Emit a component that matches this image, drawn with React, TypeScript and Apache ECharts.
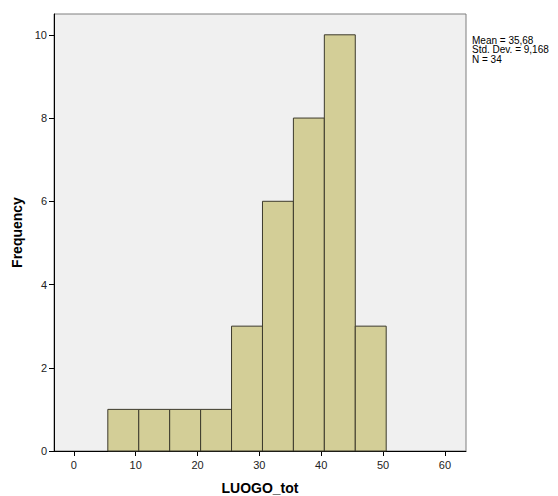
import React, { useEffect, useRef } from "react";
import * as echarts from "echarts";

const binStarts = [5.5, 10.5, 15.5, 20.5, 25.5, 30.5, 35.5, 40.5, 45.5];
const binWidth = 5;
const counts = [1, 1, 1, 1, 3, 6, 8, 10, 3];
const xTicks = [0, 10, 20, 30, 40, 50, 60];
const yTicks = [0, 2, 4, 6, 8, 10];
const statsLines = ["Mean = 35,68", "Std. Dev. = 9,168", "N = 34"];

export default function App() {
  const ref = useRef<HTMLDivElement>(null);
  useEffect(() => {
    const chart = echarts.init(ref.current!, null, { renderer: "svg" });
    const data = binStarts.map((s, i) => [s, s + binWidth, counts[i]]);
    chart.setOption({
      animation: false,
      backgroundColor: "#ffffff",
      textStyle: { fontFamily: "Liberation Sans, Arial, sans-serif" },
      grid: {
        left: 54,
        top: 14,
        right: 92,
        bottom: 45,
        containLabel: false,
        outerBoundsMode: "none",
        show: true,
        backgroundColor: "#f0f0f0",
        borderColor: "#7f7f7f",
        borderWidth: 1,
      },
      xAxis: {
        type: "value",
        min: -3.2,
        max: 63.4,
        name: "LUOGO_tot",
        nameLocation: "middle",
        nameGap: 30,
        nameTextStyle: { fontSize: 14, fontWeight: "bold", color: "#000" },
        splitLine: { show: false },
        axisLine: { show: true, onZero: false, lineStyle: { color: "#000", width: 1 } },
        axisTick: { show: true, length: 5, customValues: xTicks, lineStyle: { color: "#000" } },
        axisLabel: { customValues: xTicks, color: "#222", fontSize: 11, margin: 8 },
      },
      yAxis: {
        type: "value",
        min: 0,
        max: 10.5,
        name: "Frequency",
        nameLocation: "middle",
        nameGap: 30,
        nameTextStyle: { fontSize: 14, fontWeight: "bold", color: "#000" },
        splitLine: { show: false },
        axisLine: { show: true, onZero: false, lineStyle: { color: "#000", width: 1 } },
        axisTick: { show: true, length: 5, customValues: yTicks, lineStyle: { color: "#000" } },
        axisLabel: { customValues: yTicks, color: "#222", fontSize: 11, margin: 7 },
      },
      series: [
        {
          type: "custom",
          data,
          encode: { x: [0, 1], y: 2 },
          renderItem: (params: any, api: any) => {
            const p0 = api.coord([api.value(0), api.value(2)]);
            const p1 = api.coord([api.value(1), 0]);
            return {
              type: "rect",
              shape: { x: p0[0], y: p0[1], width: p1[0] - p0[0], height: p1[1] - p0[1] },
              style: { fill: "#d3ce97", stroke: "#3c3a2c", lineWidth: 1 },
            };
          },
        },
      ],
      graphic: [
        {
          type: "text",
          left: 472,
          top: 35,
          style: {
            text: statsLines.join("\n"),
            fontSize: 10,
            lineHeight: 9.5,
            fill: "#000",
            fontFamily: "Liberation Sans, Arial, sans-serif",
          },
        },
      ],
    });
    return () => chart.dispose();
  }, []);
  return <div ref={ref} style={{ width: 558, height: 496, position: "absolute", left: 0, top: 0 }} />;
}
